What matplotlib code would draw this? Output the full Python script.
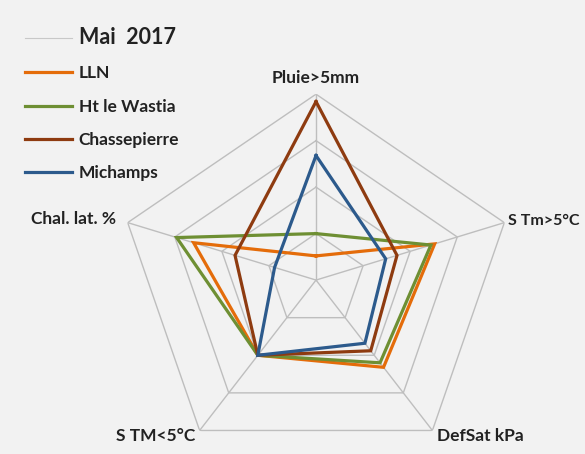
import numpy as np
import matplotlib.pyplot as plt

plt.rcParams['font.family'] = ['Lato', 'DejaVu Sans']

# axes du radar (sens horaire depuis le haut)
categories = ['Pluie>5mm', 'S Tm>5°C', 'DefSat kPa', 'S TM<5°C', 'Chal. lat. %']

# valeurs normalisées (0 = centre, 1 = bord)
mai_2017 = [0, 0, 0, 0, 0]
lln = [0.13, 0.63, 0.58, 0.50, 0.65]
ht_le_wastia = [0.25, 0.61, 0.55, 0.50, 0.74]
chassepierre = [0.96, 0.43, 0.47, 0.50, 0.43]
michamps = [0.67, 0.37, 0.42, 0.50, 0.22]

grid_levels = [0.25, 0.5, 0.75, 1.0]

series = [
    ('Mai  2017', mai_2017, '#C8C8C8', 0.8),
    ('LLN', lln, '#E46C0A', 2.3),
    ('Ht le Wastia', ht_le_wastia, '#6E8F33', 2.3),
    ('Chassepierre', chassepierre, '#8E3B10', 2.3),
    ('Michamps', michamps, '#2C5A8C', 2.3),
]

bg = '#F2F2F2'
n = len(categories)
angles = np.linspace(0, 2 * np.pi, n, endpoint=False)
angles_c = np.append(angles, angles[0])

fig = plt.figure(figsize=(5.85, 4.54), dpi=100, facecolor=bg)
ax = fig.add_axes([0.2017, -0.0264, 0.677, 0.819], projection='polar')
ax.set_aspect('auto')
ax.set_facecolor(bg)
ax.patch.set_alpha(0)
ax.set_theta_zero_location('N')
ax.set_theta_direction(-1)
ax.set_ylim(0, 1)
ax.grid(False)
ax.spines['polar'].set_visible(False)
ax.set_xticks([])
ax.set_yticks([])

# grille pentagonale
for lvl in grid_levels:
    ax.plot(angles_c, [lvl] * (n + 1), color='#BEBEBE', lw=1.0, zorder=1)
for a in angles:
    ax.plot([a, a], [0, 1], color='#BEBEBE', lw=1.0, zorder=1)

handles = []
for name, vals, col, lw in series:
    v = np.append(vals, vals[0])
    h, = ax.plot(angles_c, v, color=col, lw=lw, label=name, zorder=3,
                 solid_joinstyle='miter')
    handles.append(h)

# étiquettes des axes
lab_kw = dict(fontweight='bold', color='#222222', va='center')
ax.text(angles[0], 1.086, categories[0], ha='center', fontsize=12.5, **lab_kw)
ax.text(angles[1], 1.02, categories[1], ha='left', fontsize=11.5, **lab_kw)
ax.text(angles[2], 1.04, categories[2], ha='left', fontsize=12.5, **lab_kw)
ax.text(angles[3], 1.04, categories[3], ha='right', fontsize=12.5, **lab_kw)
ax.text(angles[4], 1.06, categories[4], ha='right', fontsize=12.5, **lab_kw)

leg = fig.legend(handles=handles, loc='upper left', bbox_to_anchor=(25 / 585, 1 - 27 / 454),
                 frameon=False, fontsize=12.5, handlelength=2.7, handletextpad=0.4,
                 labelspacing=1.0, borderpad=0, borderaxespad=0)
for i, t in enumerate(leg.get_texts()):
    t.set_fontweight('bold')
    t.set_color('#222222')
    if i == 0:
        t.set_fontsize(15.5)

fig.savefig('out.png', dpi=100, facecolor=bg)
